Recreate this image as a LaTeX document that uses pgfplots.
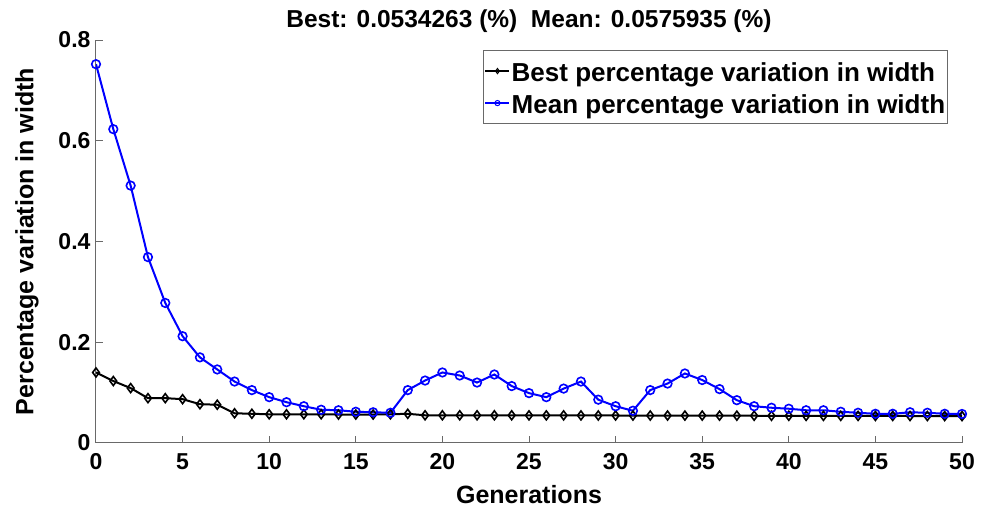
\documentclass[border=0pt]{standalone}
\usepackage{fontspec}
\setmainfont{Liberation Sans}
\usepackage{pgfplots}
\pgfplotsset{compat=1.18}

\definecolor{axgray}{RGB}{105,105,105}
\definecolor{meanblue}{RGB}{0,0,255}

\pgfplotstableread{
gen best
0 0.140
1 0.123
2 0.109
3 0.089
4 0.089
5 0.087
6 0.077
7 0.076
8 0.059
9 0.058
10 0.057
11 0.057
12 0.057
13 0.057
14 0.0565
15 0.0565
16 0.0565
17 0.057
18 0.058
19 0.055
20 0.055
21 0.055
22 0.055
23 0.055
24 0.055
25 0.0548
26 0.0548
27 0.0548
28 0.0548
29 0.0546
30 0.0546
31 0.0545
32 0.0545
33 0.0545
34 0.0544
35 0.0544
36 0.0543
37 0.0542
38 0.0541
39 0.0540
40 0.0540
41 0.0539
42 0.0539
43 0.0538
44 0.0538
45 0.0537
46 0.0537
47 0.0536
48 0.0535
49 0.0535
50 0.0534263
}\besttable

\pgfplotstableread{
gen mean
0 0.752
1 0.623
2 0.511
3 0.369
4 0.278
5 0.212
6 0.170
7 0.146
8 0.122
9 0.105
10 0.091
11 0.081
12 0.073
13 0.066
14 0.065
15 0.062
16 0.061
17 0.060
18 0.105
19 0.124
20 0.140
21 0.134
22 0.120
23 0.136
24 0.113
25 0.099
26 0.091
27 0.108
28 0.122
29 0.086
30 0.073
31 0.064
32 0.105
33 0.118
34 0.138
35 0.125
36 0.107
37 0.085
38 0.073
39 0.070
40 0.068
41 0.065
42 0.065
43 0.062
44 0.060
45 0.058
46 0.058
47 0.061
48 0.060
49 0.058
50 0.0575935
}\meantable

\begin{document}
\begin{tikzpicture}
\begin{axis}[
  scale only axis,
  width=866pt, height=403pt,
  xmin=0, xmax=50, ymin=0, ymax=0.8,
  axis x line*=bottom, axis y line*=left,
  axis line style={axgray, line width=1pt},
  tick style={axgray, line width=1pt},
  tick align=inside,
  major tick length=7pt,
  xtick={0,5,10,15,20,25,30,35,40,45,50},
  ytick={0,0.2,0.4,0.6,0.8},
  /pgf/number format/assume math mode=true,
  ticklabel style={font=\bfseries\fontsize{23}{27}\selectfont},
  yticklabel style={xshift=-2pt},
  xticklabel style={yshift=-7pt},
  xlabel={Generations},
  ylabel={Percentage variation in width},
  every axis x label/.style={at={(axis description cs:0.5,-0.129)}, anchor=center,
    font=\bfseries\fontsize{25}{30}\selectfont},
  every axis y label/.style={at={(axis description cs:-0.0797,0.5)}, anchor=center, rotate=90,
    font=\bfseries\fontsize{25}{30}\selectfont},
  title={Best: 0.0534263 (\%)\ \ Mean: 0.0575935 (\%)},
  title style={font=\bfseries\fontsize{24.5}{30}\selectfont, at={(axis description cs:0.5,1.033)}, anchor=center},
  legend style={
    at={(0.984,0.975)}, anchor=north east,
    draw=axgray, line width=1pt,
    font=\bfseries\fontsize{26}{30}\selectfont,
    inner xsep=1pt, inner ysep=3pt,
    row sep=-3pt,
    nodes={inner sep=1.5pt, text height=26pt, text depth=6pt},
  },
  legend cell align=left,
  legend image code/.code={
    \draw[#1, line width=1.5pt] (0pt,0pt) -- (24pt,0pt);
    \draw[#1, mark size=2.6pt, mark options={line width=1pt, fill=white}] plot coordinates {(12pt,0pt)};
  },
]
\addplot[black, line width=2pt, mark=diamond, mark size=4.5pt,
  mark options={line width=1.6pt, fill=none}] table[x=gen, y=best] {\besttable};
\addlegendentry{Best percentage variation in width}
\addplot[meanblue, line width=2pt, mark=o, mark size=4.3pt,
  mark options={line width=1.6pt}] table[x=gen, y=mean] {\meantable};
\addlegendentry{Mean percentage variation in width}
\end{axis}
\pgfresetboundingbox
\path[use as bounding box] (-96pt,-73pt) rectangle (892pt,443pt);
\end{tikzpicture}
\end{document}
